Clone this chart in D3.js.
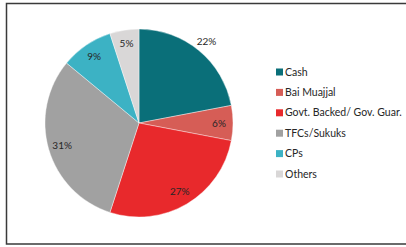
<!DOCTYPE html>
<html>
<head>
<meta charset="utf-8">
<script src="https://cdn.jsdelivr.net/npm/d3@7"></script>
<style>
  body { margin: 0; background: #fff; }
  svg { display: block; font-family: Lato, "Open Sans", sans-serif; }
</style>
</head>
<body>
<svg id="chart" width="406" height="247"></svg>
<script>
const categories = ['Cash', 'Bai Muajjal', 'Govt. Backed/ Gov. Guar.', 'TFCs/Sukuks', 'CPs', 'Others'];
const shares = [22, 6, 27, 31, 9, 5];
const colours = ['#0a6f79', '#d65d56', '#e8292c', '#a1a1a1', '#3cb2c4', '#d9d7d7'];

const svg = d3.select('#chart');

// frame (right side runs off the picture)
svg.append('path')
  .attr('d', 'M420,3.5 H6.5 V244 H420')
  .attr('fill', 'none')
  .attr('stroke', '#3a3a3a')
  .attr('stroke-width', 1.5);

const cx = 139, cy = 123, r = 94;
const data = categories.map((c, i) => ({name: c, value: shares[i]}));

const pie = d3.pie().value(d => d.value).sort(null);
const arc = d3.arc().innerRadius(0).outerRadius(r);
const colour = d3.scaleOrdinal().domain(categories).range(colours);

const g = svg.append('g').attr('transform', `translate(${cx},${cy})`);
const arcs = pie(data);

g.selectAll('path')
  .data(arcs)
  .join('path')
  .attr('d', arc)
  .attr('fill', d => colour(d.data.name))
  .attr('stroke', '#fff')
  .attr('stroke-width', 0.4);

// labels sit inside the slices, except the first one which goes outside
const inner = d3.arc().innerRadius(80).outerRadius(80);
const outer = d3.arc().innerRadius(106).outerRadius(106);

g.selectAll('text')
  .data(arcs)
  .join('text')
  .attr('transform', d => `translate(${(d.index === 0 ? outer : inner).centroid(d)})`)
  .attr('text-anchor', 'middle')
  .attr('dy', '0.35em')
  .attr('font-size', 10)
  .attr('fill', '#262626')
  .text(d => d.data.value + '%');

const legendY = d3.scalePoint().domain(categories).range([72, 174]);

const legend = svg.append('g')
  .selectAll('g')
  .data(categories)
  .join('g')
  .attr('transform', d => `translate(276,${legendY(d)})`);

legend.append('rect')
  .attr('y', -3.5)
  .attr('width', 7)
  .attr('height', 7)
  .attr('fill', d => colour(d));

legend.append('text')
  .attr('x', 9)
  .attr('dy', '0.35em')
  .attr('font-size', 10.5)
  .attr('fill', '#262626')
  .text(d => d);
</script>
</body>
</html>
